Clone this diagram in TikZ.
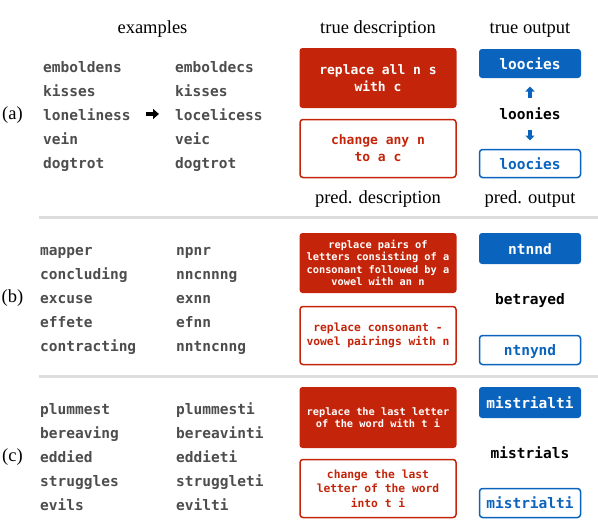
\documentclass[tikz,border=0pt]{standalone}
\usepackage{fontspec}
\setmainfont{Liberation Serif}
\setmonofont{DejaVu Sans Mono}
\usetikzlibrary{arrows.meta}
\definecolor{myred}{HTML}{C4250A}
\definecolor{myblue}{HTML}{0A64BE}
\definecolor{wordgray}{HTML}{4D4D4D}
\definecolor{sepgray}{HTML}{DDDDDD}
\tikzset{
  head/.style={font=\fontsize{18.5}{20}\selectfont, inner sep=0pt, anchor=base},
  lab/.style={font=\fontsize{18.5}{20}\selectfont, inner sep=0pt, anchor=base},
  word/.style={font=\ttfamily\bfseries\fontsize{14.5}{16}\selectfont, text=wordgray, anchor=base west, inner sep=0pt},
  mid/.style={font=\ttfamily\bfseries\fontsize{14.5}{16}\selectfont, text=black, inner sep=0pt, anchor=base},
  redfill/.style={fill=myred, rounded corners=3pt, minimum width=157pt, text=white, align=center, inner sep=0pt},
  redline/.style={draw=myred, line width=1.5pt, fill=white, rounded corners=3pt, minimum width=156pt, text=myred, align=center, inner sep=0pt},
  bluefill/.style={fill=myblue, rounded corners=3pt, minimum width=102pt, text=white, inner sep=0pt, font=\ttfamily\bfseries\fontsize{14.5}{16}\selectfont, text height=13pt, text depth=2pt},
  blueline/.style={draw=myblue, line width=1.5pt, fill=white, rounded corners=3pt, minimum width=101pt, text=myblue, inner sep=0pt, font=\ttfamily\bfseries\fontsize{14.5}{16}\selectfont, text height=13pt, text depth=2pt},
  fa/.style={font=\ttfamily\bfseries\fontsize{13}{17}\selectfont},
  fs/.style={font=\ttfamily\bfseries\fontsize{10.3}{12.3}\selectfont},
  fm/.style={font=\ttfamily\bfseries\fontsize{11.3}{14.5}\selectfont},
  sep/.style={draw=sepgray, line width=3pt},
  blackarrow/.style={-{Triangle[length=6pt,width=10pt]}, line width=4pt, black},
  bluearrow/.style={-{Triangle[length=5pt,width=9pt]}, line width=3.5pt, myblue},
}
\begin{document}
\begin{tikzpicture}[x=1pt,y=-1pt]
\useasboundingbox (0,0) rectangle (598,522);
% headers
\node[head] (hex) at (152.5,33.5) {examples};
\node[head] (htd) at (378,33.5) {true description};
\node[head] (hto) at (530,33.5) {true output};
\node[head] (hpd) at (378,203.5) {pred. description};
\node[head] (hpo) at (530,203.5) {pred. output};
% separators
\coordinate (s1a) at (39,217); \coordinate (s1b) at (598,217);
\coordinate (s2a) at (39,376); \coordinate (s2b) at (598,376);
\draw[sep] (s1a) -- (s1b);
\draw[sep] (s2a) -- (s2b);
% ---------- (a)
\node[lab] (la) at (12.5,119.5) {(a)};
\node[word] (a11) at (43,72) {emboldens};
\node[word] (a12) at (43,96) {kisses};
\node[word] (a13) at (43,120) {loneliness};
\node[word] (a14) at (43,144) {vein};
\node[word] (a15) at (43,168) {dogtrot};
\node[word] (a21) at (175,72) {emboldecs};
\node[word] (a22) at (175,96) {kisses};
\node[word] (a23) at (175,120) {locelicess};
\node[word] (a24) at (175,144) {veic};
\node[word] (a25) at (175,168) {dogtrot};
\coordinate (aa1) at (146,114); \coordinate (aa2) at (159,114);
\draw[blackarrow] (aa1) -- (aa2);
\node[redfill, fa, minimum height=60pt] (ard) at (378,78) {replace all n s\\with c};
\node[redline, fa, minimum height=58pt] (arl) at (378,148.5) {change any n\\to a c};
\node[bluefill, minimum height=29pt] (abf) at (530,63.5) {loocies};
\node[mid] (amid) at (530,119.5) {loonies};
\node[blueline, minimum height=28pt] (abl) at (530,163.5) {loocies};
\coordinate (au1) at (530,98); \coordinate (au2) at (530,86.5);
\coordinate (ad1) at (530,129.5); \coordinate (ad2) at (530,140.5);
\draw[bluearrow] (au1) -- (au2);
\draw[bluearrow] (ad1) -- (ad2);
% ---------- (b)
\node[lab] (lb) at (12.5,302.5) {(b)};
\node[word] (b11) at (40,255) {mapper};
\node[word] (b12) at (40,279) {concluding};
\node[word] (b13) at (40,303) {excuse};
\node[word] (b14) at (40,327) {effete};
\node[word] (b15) at (40,351) {contracting};
\node[word] (b21) at (176,255) {npnr};
\node[word] (b22) at (176,279) {nncnnng};
\node[word] (b23) at (176,303) {exnn};
\node[word] (b24) at (176,327) {efnn};
\node[word] (b25) at (176,351) {nntncnng};
\node[redfill, fs, minimum height=60pt] (brd) at (378,263) {replace pairs of\\letters consisting of a\\consonant followed by a\\vowel with an n};
\node[redline, fm, minimum height=58pt] (brl) at (378,335.5) {replace consonant -\\vowel pairings with n};
\node[bluefill, minimum height=31pt] (bbf) at (530,248.5) {ntnnd};
\node[mid] (bmid) at (530,304.5) {betrayed};
\node[blueline, minimum height=29pt] (bbl) at (530,350) {ntnynd};
% ---------- (c)
\node[lab] (lc) at (12.5,461.5) {(c)};
\node[word] (c11) at (40,414) {plummest};
\node[word] (c12) at (40,438) {bereaving};
\node[word] (c13) at (40,462) {eddied};
\node[word] (c14) at (40,486) {struggles};
\node[word] (c15) at (40,510) {evils};
\node[word] (c21) at (176,414) {plummesti};
\node[word] (c22) at (176,438) {bereavinti};
\node[word] (c23) at (176,462) {eddieti};
\node[word] (c24) at (176,486) {struggleti};
\node[word] (c25) at (176,510) {evilti};
\node[redfill, fs, minimum height=61pt] (crd) at (378,417.5) {replace the last letter\\of the word with t i};
\node[redline, fm, minimum height=58pt] (crl) at (378,488.5) {change the last\\letter of the word\\into t i};
\node[bluefill, minimum height=31pt] (cbf) at (530,402.5) {mistrialti};
\node[mid] (cmid) at (530,458.5) {mistrials};
\node[blueline, minimum height=29pt] (cbl) at (530,503) {mistrialti};
\end{tikzpicture}
\end{document}
